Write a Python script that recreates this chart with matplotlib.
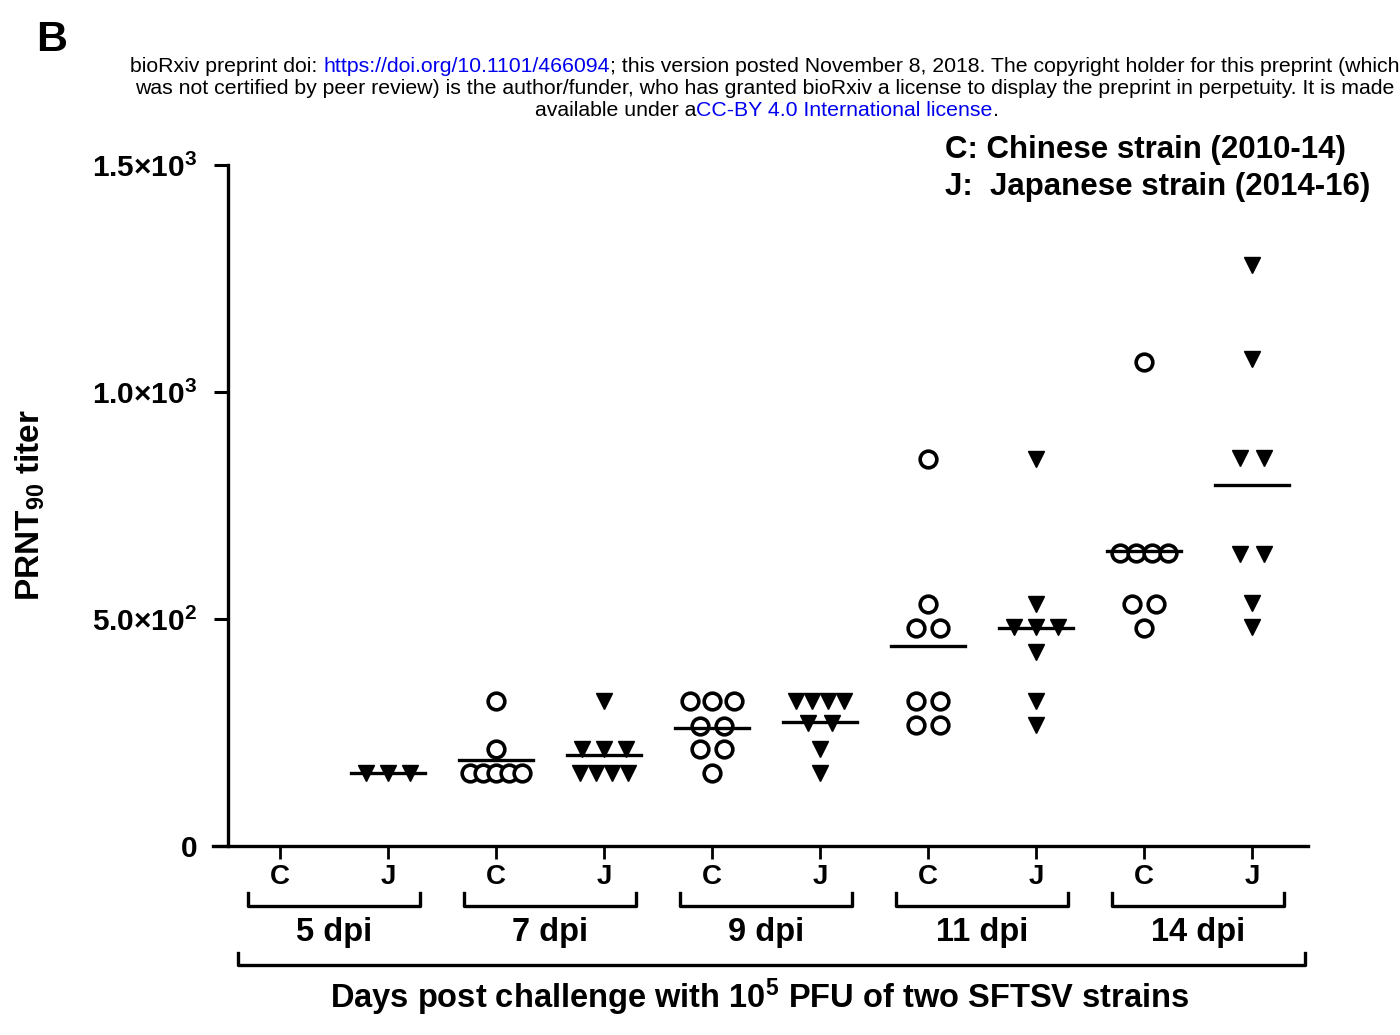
import numpy as np
import matplotlib
matplotlib.use("Agg")
import matplotlib.pyplot as plt
from matplotlib.transforms import blended_transform_factory

plt.rcParams['font.family'] = ['Liberation Sans', 'DejaVu Sans']
plt.rcParams['mathtext.fontset'] = 'custom'
plt.rcParams['mathtext.rm'] = 'Liberation Sans:bold'
plt.rcParams['mathtext.bf'] = 'Liberation Sans:bold'
plt.rcParams['mathtext.it'] = 'Liberation Sans:bold'

# PRNT90 titers, one list per day
days = ['5 dpi', '7 dpi', '9 dpi', '11 dpi', '14 dpi']
chinese_titers = [
    [],
    [320, 213, 160, 160, 160, 160, 160],
    [320, 320, 320, 264, 264, 213, 213, 160],
    [852, 533, 480, 480, 320, 320, 267, 267],
    [1066, 645, 645, 645, 645, 533, 533, 480],
]
japanese_titers = [
    [160, 160, 160],
    [320, 213, 213, 213, 160, 160, 160, 160],
    [320, 320, 320, 320, 270, 270, 213, 160],
    [852, 533, 482, 482, 482, 427, 320, 267],
    [1280, 1073, 855, 855, 643, 643, 535, 482],
]
strain_labels = ['C', 'J']
ytick_vals = [0, 500, 1000, 1500]
ytick_labels = ['0', r'5.0$\times$10$^2$', r'1.0$\times$10$^3$', r'1.5$\times$10$^3$']


def spread(vals):
    # put equal values side by side, centred on the column
    vals = np.asarray(vals, dtype=float)
    offs = np.zeros(len(vals))
    for v in np.unique(vals):
        idx = np.where(vals == v)[0]
        n = len(idx)
        step = min(0.22, 0.6 / n)
        offs[idx] = (np.arange(n) - (n - 1) / 2) * step
    return offs


W, H = 1400, 1035
fig = plt.figure(figsize=(14, 10.35), dpi=100)
ax_left, ax_right, ax_top, ax_bot = 213, 1308, 165, 846
ax = fig.add_axes([ax_left / W, 1 - ax_bot / H, (ax_right - ax_left) / W, (ax_bot - ax_top) / H])

px_per_cat = 108.0
x0_px = 280.0
ax.set_xlim((ax_left - x0_px) / px_per_cat, (ax_right - x0_px) / px_per_cat)
ax.set_ylim(0, 1500)

for i in range(len(days)):
    for k, (vals, style) in enumerate([(chinese_titers[i], 'C'), (japanese_titers[i], 'J')]):
        pos = 2 * i + k
        if len(vals) == 0:
            continue
        xs = pos + spread(vals)
        if style == 'C':
            ax.plot(xs, vals, 'o', ms=12, mfc='white', mec='black', mew=2.6, zorder=3)
        else:
            ax.plot(xs, vals, 'v', ms=11, color='black', zorder=3)
        m = np.mean(vals)
        ax.plot([pos - 0.34, pos + 0.34], [m, m], color='black', lw=2.4, zorder=4)

for s in ['top', 'right']:
    ax.spines[s].set_visible(False)
ax.spines['left'].set_position(('data', (228 - x0_px) / px_per_cat))
ax.spines['left'].set_linewidth(2.4)
ax.spines['bottom'].set_linewidth(2.4)

ax.set_xticks(range(10))
ax.set_xticklabels(strain_labels * 5, fontsize=20, fontweight='bold')
ax.tick_params(axis='x', length=9, width=2, pad=4)
ax.set_yticks(ytick_vals)
ax.set_yticklabels(ytick_labels, fontsize=21.5, fontweight='bold')
ax.tick_params(axis='y', length=10, width=2.2, pad=12)

# brackets under the axis
tr = blended_transform_factory(ax.transData, ax.transAxes)
hpx = ax_bot - ax_top


def fy(py):
    return (ax_bot - py) / hpx


for i, d in enumerate(days):
    a, b = 2 * i - 0.30, 2 * i + 1.30
    ax.plot([a, a, b, b], [fy(893), fy(906), fy(906), fy(893)], color='black', lw=2.4,
            transform=tr, clip_on=False)
    ax.text(2 * i + 0.5, fy(933), d, transform=tr, ha='center', va='center',
            fontsize=23.5, fontweight='bold')

a, b = (238 - x0_px) / px_per_cat, (1305 - x0_px) / px_per_cat
ax.plot([a, a, b, b], [fy(953), fy(965), fy(965), fy(953)], color='black', lw=2.4,
        transform=tr, clip_on=False)
ax.text((760 - x0_px) / px_per_cat, fy(997), r'Days post challenge with 10$^5$ PFU of two SFTSV strains',
        transform=tr, ha='center', va='center', fontsize=23.5, fontweight='bold')

fig.text(30 / W, 1 - 505 / H, r'PRNT$_{90}$ titer', rotation=90, ha='center', va='center',
         fontsize=24, fontweight='bold')

fig.text(945 / W, 1 - 150 / H, 'C: Chinese strain (2010-14)', ha='left', va='center',
         fontsize=22.5, fontweight='bold')
fig.text(945 / W, 1 - 187 / H, 'J:  Japanese strain (2014-16)', ha='left', va='center',
         fontsize=22.5, fontweight='bold')

fig.text(52 / W, 1 - 40 / H, 'B', ha='center', va='center', fontsize=31, fontweight='bold')

# preprint header
hs = 15.3
blue = '#0000ee'
t1 = fig.text(130 / W, 1 - 67 / H, 'bioRxiv preprint doi: ', ha='left', va='center', fontsize=hs)
t2 = plt.annotate('https://doi.org/10.1101/466094', xy=(1, 0), xycoords=t1, ha='left', va='bottom',
                  color=blue, fontsize=hs, annotation_clip=False)
plt.annotate('; this version posted November 8, 2018. The copyright holder for this preprint (which',
             xy=(1, 0), xycoords=t2, ha='left', va='bottom', fontsize=hs, annotation_clip=False)
fig.text(135 / W, 1 - 88 / H,
         'was not certified by peer review) is the author/funder, who has granted bioRxiv a license to display the preprint in perpetuity. It is made',
         ha='left', va='center', fontsize=hs)
t3 = fig.text(535 / W, 1 - 110 / H, 'available under a', ha='left', va='center', fontsize=hs)
t4 = plt.annotate('CC-BY 4.0 International license', xy=(1, 0), xycoords=t3, ha='left', va='bottom',
                  color=blue, fontsize=hs, annotation_clip=False)
plt.annotate('.', xy=(1, 0), xycoords=t4, ha='left', va='bottom', fontsize=hs, annotation_clip=False)

fig.savefig('out.png', dpi=100)
